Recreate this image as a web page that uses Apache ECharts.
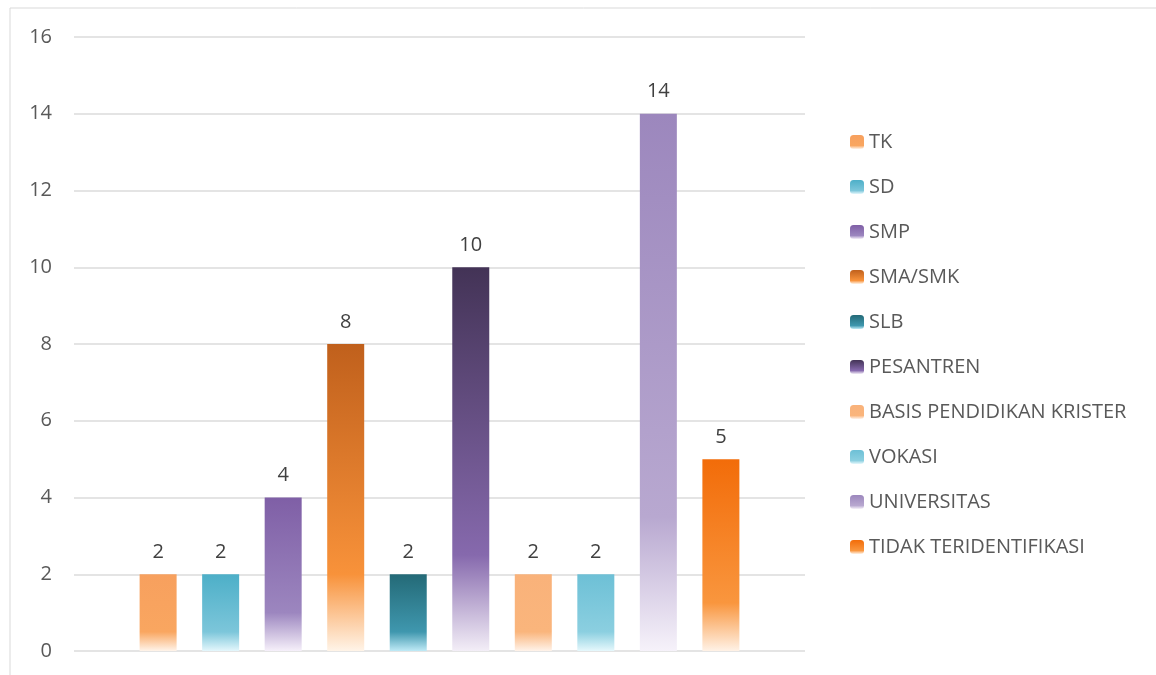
<!DOCTYPE html>
<html><head><meta charset="utf-8">
<script src="https://cdn.jsdelivr.net/npm/echarts@6/dist/echarts.min.js"></script>
<style>html,body{margin:0;padding:0;background:#fff}#c{width:1156px;height:675px}</style>
</head><body><div id="c"></div>
<script>
const names = ['TK','SD','SMP','SMA/SMK','SLB','PESANTREN','BASIS PENDIDIKAN KRISTER','VOKASI','UNIVERSITAS','TIDAK TERIDENTIFIKASI'];
const values = [2,2,4,8,2,10,2,2,14,5];
const yTicks = [0,2,4,6,8,10,12,14,16];
const gradStops = [
  ['#F7A05E','#F9A660','#FFF4EA'],
  ['#4DAFC8','#7CC6DA','#E4F7FC'],
  ['#7F5FA6','#9C86BF','#F6F0FA'],
  ['#C0601C','#F8923A','#FFF4E8'],
  ['#246A77','#3F97AE','#BFEAF6'],
  ['#433356','#8669AD','#F3EEF7'],
  ['#F9B27A','#FAB57C','#FFF3EA'],
  ['#6DC0D6','#8BCFE0','#E6F8FC'],
  ['#9C87BD','#B8A8D0','#F6F2FA'],
  ['#F26C09','#F9963E','#FFF2E6']
];
function grad(s){
  return new echarts.graphic.LinearGradient(0,0,0,1,[
    {offset:0,color:s[0]},{offset:0.75,color:s[1]},{offset:1,color:s[2]}]);
}
const series = names.map((n,i)=>({
  name:n, type:'bar', data:[values[i]], barWidth:37, barGap:'69%',
  itemStyle:{color:grad(gradStops[i])},
  label:{show:true, position:'top', distance:12, color:'#404040', fontSize:20, fontFamily:'Open Sans'}
}));
const chart = echarts.init(document.getElementById('c'));
chart.setOption({
  animation:false,
  graphic:[{type:'rect', shape:{x:10,y:8,width:1160,height:680}, style:{fill:'none', stroke:'#D9D9D9', lineWidth:1}, silent:true}],
  grid:{left:74, right:351, top:37, bottom:24},
  xAxis:{type:'category', data:[''], axisLine:{show:false}, axisTick:{show:false}, axisLabel:{show:false}},
  yAxis:{type:'value', min:yTicks[0], max:yTicks[yTicks.length-1], interval:2,
    axisLine:{show:false}, axisTick:{show:false},
    axisLabel:{color:'#595959', fontSize:20, fontFamily:'Open Sans', margin:22},
    splitLine:{lineStyle:{color:'#E4E4E4', width:2}}},
  legend:{orient:'vertical', left:845, top:127, itemWidth:14, itemHeight:14, itemGap:25,
    textStyle:{color:'#595959', fontSize:20, fontFamily:'Open Sans'}, data:names},
  series:series
});
</script></body></html>
